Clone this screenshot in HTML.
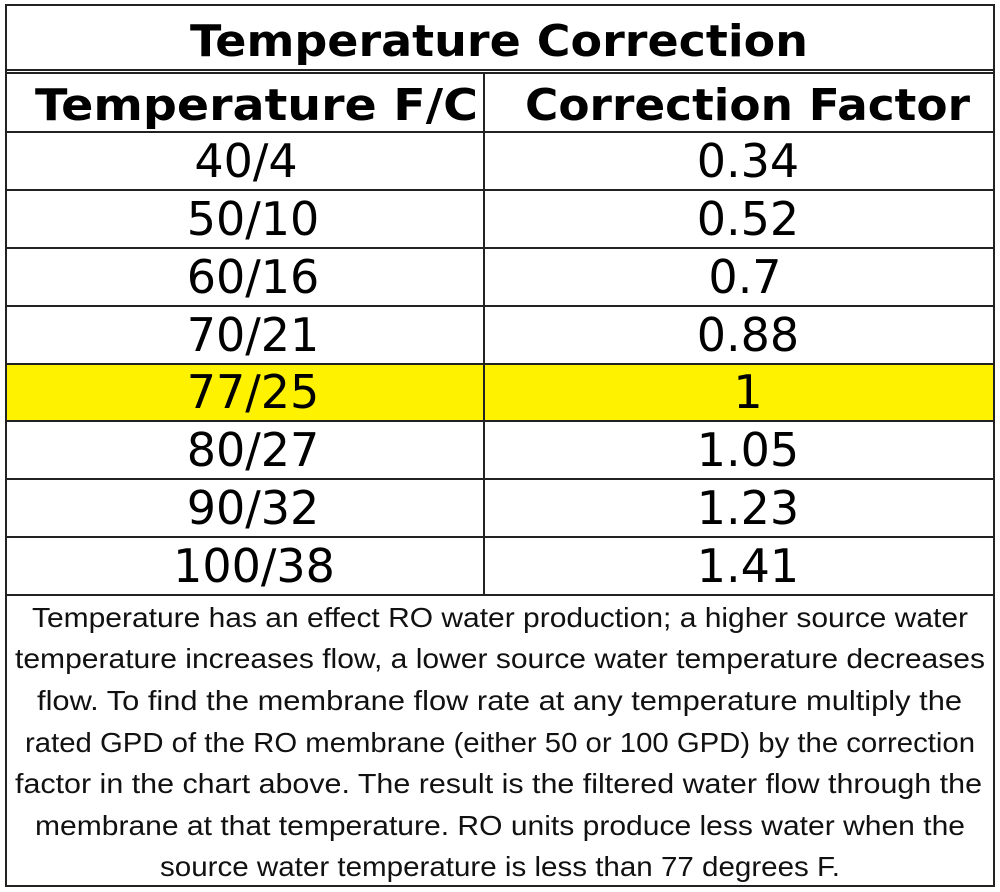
<!DOCTYPE html>
<html><head><meta charset="utf-8"><style>
html,body{margin:0;padding:0;background:#fff;}
svg{display:block;}
</style></head><body>
<svg width="1000" height="892" xmlns="http://www.w3.org/2000/svg">
<rect width="1000" height="892" fill="#fff"/>
<rect x="6" y="364" width="988" height="57" fill="#fff200"/>
<g stroke="#222" stroke-width="2" fill="none">
<rect x="6" y="5" width="988" height="881"/>
<line x1="6" y1="70" x2="994" y2="70"/>
<line x1="6" y1="73" x2="994" y2="73"/>
<line x1="6" y1="132" x2="994" y2="132"/>
<line x1="6" y1="190" x2="994" y2="190"/>
<line x1="6" y1="248" x2="994" y2="248"/>
<line x1="6" y1="306" x2="994" y2="306"/>
<line x1="6" y1="364" x2="994" y2="364"/>
<line x1="6" y1="421" x2="994" y2="421"/>
<line x1="6" y1="479" x2="994" y2="479"/>
<line x1="6" y1="537" x2="994" y2="537"/>
<line x1="6" y1="595" x2="994" y2="595"/>
<line x1="484" y1="73" x2="484" y2="595"/>
</g>
<g font-family="DejaVu Sans, Liberation Sans, sans-serif" font-weight="bold" fill="#000" font-size="44">
<text x="190" y="56" textLength="618" lengthAdjust="spacingAndGlyphs">Temperature Correction</text>
<text x="35" y="120" textLength="443" lengthAdjust="spacingAndGlyphs">Temperature F/C</text>
<text x="525" y="120" textLength="445" lengthAdjust="spacingAndGlyphs">Correction Factor</text>
</g>
<g font-family="DejaVu Sans, Liberation Sans, sans-serif" fill="#000" font-size="46" text-anchor="middle">
<text x="246" y="177">40/4</text><text x="748" y="177">0.34</text>
<text x="253" y="235">50/10</text><text x="748" y="235">0.52</text>
<text x="253" y="293">60/16</text><text x="745" y="293">0.7</text>
<text x="253" y="351">70/21</text><text x="748" y="351">0.88</text>
<text x="253" y="408">77/25</text><text x="748" y="408">1</text>
<text x="253" y="466">80/27</text><text x="748" y="466">1.05</text>
<text x="253" y="524">90/32</text><text x="748" y="524">1.23</text>
<text x="254" y="582">100/38</text><text x="748" y="582">1.41</text>
</g>
<g font-family="Liberation Sans, sans-serif" fill="#111" font-size="28">
<text x="32" y="627" textLength="936" lengthAdjust="spacingAndGlyphs">Temperature has an effect RO water production; a higher source water</text>
<text x="15" y="668" textLength="970" lengthAdjust="spacingAndGlyphs">temperature increases flow, a lower source water temperature decreases</text>
<text x="37" y="710" textLength="925" lengthAdjust="spacingAndGlyphs">flow. To find the membrane flow rate at any temperature multiply the</text>
<text x="25" y="752" textLength="950" lengthAdjust="spacingAndGlyphs">rated GPD of the RO membrane (either 50 or 100 GPD) by the correction</text>
<text x="15" y="793" textLength="967" lengthAdjust="spacingAndGlyphs">factor in the chart above. The result is the filtered water flow through the</text>
<text x="35" y="835" textLength="930" lengthAdjust="spacingAndGlyphs">membrane at that temperature. RO units produce less water when the</text>
<text x="160" y="876" textLength="680" lengthAdjust="spacingAndGlyphs">source water temperature is less than 77 degrees F.</text>
</g>
</svg>
</body></html>
